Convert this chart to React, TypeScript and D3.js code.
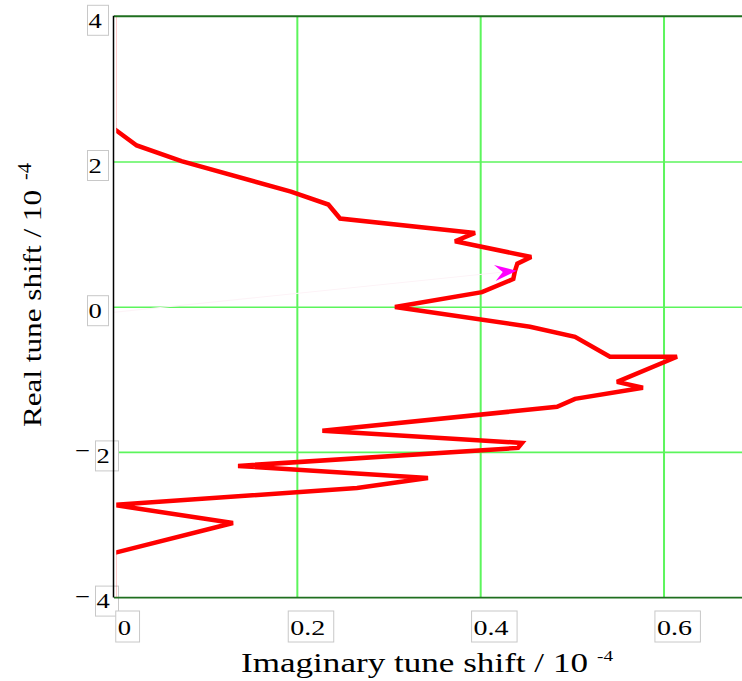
import React from "react";
import * as d3 from "d3";

// Tune-shift trajectory: imaginary part (x) vs real part (y), both in units of 1e-4
const imagShift = [0, 0, 0.0248, 0.0736, 0.193, 0.2338, 0.2466, 0.3938, 0.372, 0.4551, 0.44, 0.4373, 0.4356, 0.4014, 0.3065, 0.4538, 0.5029, 0.541, 0.6142, 0.5487, 0.577, 0.5029, 0.4833, 0.2273, 0.4451, 0.4407, 0.1353, 0.3425, 0.2651, 0, 0.1298, 0, 0];
const realShift = [4, 2.458, 2.228, 2.011, 1.593, 1.414, 1.221, 1.023, 0.908, 0.692, 0.6, 0.494, 0.389, 0.207, 0.003, -0.269, -0.407, -0.683, -0.683, -1.028, -1.11, -1.262, -1.372, -1.703, -1.869, -1.938, -2.186, -2.352, -2.49, -2.724, -2.972, -3.386, -4];

// Direction marker: from a faint guide start to the arrow tip
const markerFrom = [0, -0.07];
const markerTip = [0.4393, 0.503];

const xTicks = [0, 0.2, 0.4, 0.6];
const xTickLabels = ["0", "0.2", "0.4", "0.6"];
const yTicks = [4, 2, 0, -2, -4];
const yTickLabels = ["4", "2", "0", "2", "4"];

const W = 742;
const H = 681;
const FONT = '"Liberation Serif", "DejaVu Serif", serif';

export default function App() {
  const x = d3.scaleLinear().domain([0, 0.7]).range([114, 114 + 0.7 * 916.7]);
  const y = d3.scaleLinear().domain([-4, 4]).range([597.6, 16.8]);

  const pts: [number, number][] = imagShift.map((v, i) => [v, realShift[i]]);
  const line = d3
    .line<[number, number]>()
    .x((d) => x(d[0]))
    .y((d) => y(d[1]));

  // arrow polygon oriented along the guide direction
  const tx = x(markerTip[0]);
  const ty = y(markerTip[1]);
  const fx = x(markerFrom[0]);
  const fy = y(markerFrom[1]);
  const ang = Math.atan2(ty - fy, tx - fx);
  const rot = (px: number, py: number) => [
    tx + px * Math.cos(ang) - py * Math.sin(ang),
    ty + px * Math.sin(ang) + py * Math.cos(ang),
  ];
  const arrow = [rot(0, 0), rot(-22, -8), rot(-14, 0), rot(-22, 8)]
    .map((p) => p.join(","))
    .join(" ");
  const guideEnd = rot(-16, 0);

  const left = x(0);
  const right = W;
  const top = y(4);
  const bottom = y(-4);

  const digitW = 13.3;
  const decW = 35;
  const txt = { fontFamily: FONT };

  return (
    <svg
      width={W}
      height={H}
      style={{ position: "absolute", left: 0, top: 0, background: "#fff", fontFamily: FONT }}
    >
      <defs>
        <clipPath id="plotClip">
          <rect x={left + 2.2} y={top} width={right - left} height={bottom - top} />
        </clipPath>
      </defs>

      {/* grid */}
      {xTicks.slice(1).map((t) => (
        <line key={"gx" + t} x1={x(t)} x2={x(t)} y1={top} y2={bottom} stroke="#5cf55c" strokeWidth={2} />
      ))}
      {yTicks.slice(1, -1).map((t) => (
        <line key={"gy" + t} x1={left} x2={right} y1={y(t)} y2={y(t)} stroke="#5cf55c" strokeWidth={1.6} />
      ))}

      {/* y tick label boxes */}
      {yTicks.map((t) => {
        const neg = t < 0;
        const bx = neg ? 95 : 87;
        const bw = neg ? 23 : 21;
        const by = y(t) - 12;
        return (
          <rect key={"yb" + t} x={bx + 0.5} y={by + 0.5} width={bw} height={30} fill="#fff" stroke="#c8c8c8" strokeWidth={1} />
        );
      })}
      {/* x tick label boxes */}
      {xTicks.map((t, i) => {
        const tw = xTickLabels[i].length > 1 ? decW : digitW;
        const cx = x(t) + 10.4;
        const bx = cx - tw / 2 - 2.5;
        return (
          <rect key={"xb" + t} x={bx + 0.5} y={611} width={tw + 10.5} height={31} fill="#fff" stroke="#c8c8c8" strokeWidth={1} />
        );
      })}

      {/* frame */}
      <line x1={left} x2={right} y1={top - 0.5} y2={top - 0.5} stroke="#1f6f1f" strokeWidth={2} />
      <line x1={left} x2={right} y1={bottom} y2={bottom} stroke="#1f6f1f" strokeWidth={1.6} />

      {/* guide toward the marker */}
      <line x1={fx} y1={fy} x2={guideEnd[0]} y2={guideEnd[1]} stroke="#fdf3f7" strokeWidth={1} />

      {/* trajectory */}
      <path
        d={line(pts) || ""}
        fill="none"
        stroke="#ff0000"
        strokeWidth={4.5}
        strokeLinejoin="miter"
        strokeMiterlimit={3}
        clipPath="url(#plotClip)"
      />
      <line x1={left - 0.5} x2={left - 0.5} y1={top - 1} y2={bottom} stroke="#000" strokeWidth={1.5} />

      <polygon points={arrow} fill="#ff00ff" />

      {/* y tick labels */}
      {yTicks.map((t, i) => {
        const neg = t < 0;
        const base = y(t) - 12 + 22.7;
        return (
          <g key={"yt" + t} fontSize={22} fill="#000">
            {neg && (
              <text style={txt} x={75} y={y(t) + 6} textLength={15} lengthAdjust="spacingAndGlyphs">
                −
              </text>
            )}
            <text style={txt} x={neg ? 96.5 : 88.5} y={base} textLength={digitW} lengthAdjust="spacingAndGlyphs">
              {yTickLabels[i]}
            </text>
          </g>
        );
      })}

      {/* x tick labels */}
      {xTicks.map((t, i) => {
        const tw = xTickLabels[i].length > 1 ? decW : digitW;
        const cx = x(t) + 10.4;
        return (
          <text
            key={"xt" + t}
            style={txt}
            x={cx - tw / 2}
            y={634.5}
            fontSize={22}
            textLength={tw}
            lengthAdjust="spacingAndGlyphs"
          >
            {xTickLabels[i]}
          </text>
        );
      })}

      {/* axis titles */}
      <text style={txt} x={241} y={672} fontSize={27} textLength={347} lengthAdjust="spacingAndGlyphs">
        Imaginary tune shift / 10
      </text>
      <text style={txt} x={597} y={661} fontSize={15} textLength={16} lengthAdjust="spacingAndGlyphs">
        -4
      </text>
      <g transform="translate(41,427) rotate(-90)">
        <text style={txt} x={0} y={0} fontSize={25} textLength={237} lengthAdjust="spacingAndGlyphs">
          Real tune shift / 10
        </text>
      </g>
      <g transform="translate(31,180) rotate(-90)">
        <text style={txt} x={0} y={0} fontSize={18} textLength={17} lengthAdjust="spacingAndGlyphs">
          -4
        </text>
      </g>
    </svg>
  );
}
